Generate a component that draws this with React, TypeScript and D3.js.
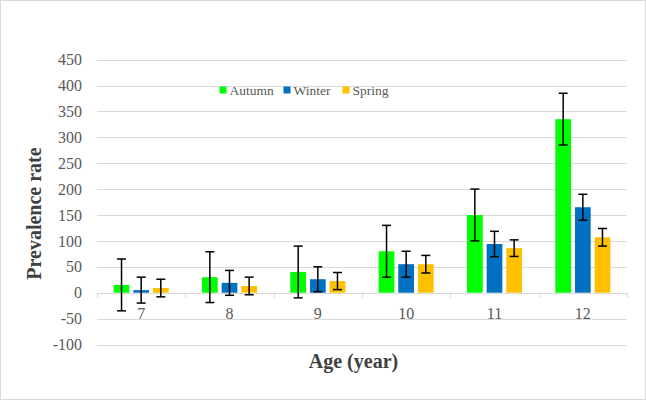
import React from "react";
import * as d3 from "d3";

const categories = ["7", "8", "9", "10", "11", "12"];
const seriesNames = ["Autumn", "Winter", "Spring"];
const seriesColors = ["#00ff00", "#0070c0", "#ffc000"];
const autumn = [15, 30, 40, 80, 150, 335];
const autumnErr = [50, 49, 50, 50, 50, 50];
const winter = [5, 19, 26, 55, 94, 165];
const winterErr = [25, 24, 24, 25, 24.5, 25];
const spring = [9, 13, 22.5, 55, 86, 107];
const springErr = [17, 17, 16.5, 17, 16, 17];
const yTicks = [-100, -50, 0, 50, 100, 150, 200, 250, 300, 350, 400, 450];

const W = 646;
const H = 400;
const FONT = "'Liberation Serif', 'Times New Roman', serif";

export default function App() {
  const values = [autumn, winter, spring];
  const errs = [autumnErr, winterErr, springErr];
  const y = d3.scaleLinear().domain([-100, 450]).range([344.5, 59.6]);
  const x0 = d3.scaleBand().domain(categories).range([97, 627]).paddingInner(0).paddingOuter(0);
  const x1 = d3.scaleBand().domain(seriesNames).range([-27.5, 27.5]).paddingInner(0.2).paddingOuter(0);
  const bw = x1.bandwidth();
  const legendX = [219.5, 283.5, 342.5];

  return (
    <svg width={W} height={H} style={{ position: "absolute", left: 0, top: 0, background: "#fff" }}>
      <rect x={0.5} y={0.5} width={W - 1} height={H - 1} fill="#fff" stroke="#d9d9d9" />
      {/* gridlines */}
      {yTicks.map((t) => (
        <line key={"g" + t} x1={97} x2={627} y1={Math.round(y(t)) + 0.5} y2={Math.round(y(t)) + 0.5} stroke="#d9d9d9" strokeWidth={1} />
      ))}
      {/* x axis ticks */}
      {[...categories.map((c) => x0(c)!), 627].map((xv, i) => (
        <line key={"t" + i} x1={Math.round(xv) + 0.5} x2={Math.round(xv) + 0.5} y1={y(0)} y2={y(0) + 5} stroke="#d9d9d9" />
      ))}
      {/* y tick labels */}
      {yTicks.map((t) => (
        <text key={"yl" + t} x={82} y={y(t)} dy="0.35em" textAnchor="end" fontFamily={FONT} fontSize={16} fill="#595959">
          {t}
        </text>
      ))}
      {/* bars */}
      {categories.map((c, ci) => (
        <g key={"c" + c} transform={`translate(${x0(c)! + x0.bandwidth() / 2},0)`}>
          {seriesNames.map((s, si) => {
            const v = values[si][ci];
            const bx = x1(s)!;
            return (
              <rect key={s} x={bx} y={Math.min(y(v), y(0))} width={bw} height={Math.abs(y(0) - y(v))} fill={seriesColors[si]} />
            );
          })}
        </g>
      ))}
      {/* error bars */}
      {categories.map((c, ci) => (
        <g key={"e" + c} transform={`translate(${x0(c)! + x0.bandwidth() / 2},0)`}>
          {seriesNames.map((s, si) => {
            const v = values[si][ci];
            const e = errs[si][ci];
            const cx = x1(s)! + bw / 2;
            const yt = y(v + e);
            const yb = y(v - e);
            return (
              <g key={s} stroke="#000" strokeWidth={1.5}>
                <line x1={cx} x2={cx} y1={yt} y2={yb} />
                <line x1={cx - 4.5} x2={cx + 4.5} y1={yt} y2={yt} />
                <line x1={cx - 4.5} x2={cx + 4.5} y1={yb} y2={yb} />
              </g>
            );
          })}
        </g>
      ))}
      {/* x labels */}
      {categories.map((c) => (
        <text key={"xl" + c} x={x0(c)! + x0.bandwidth() / 2} y={319} textAnchor="middle" fontFamily={FONT} fontSize={16} fill="#595959">
          {c}
        </text>
      ))}
      {/* legend */}
      {seriesNames.map((s, si) => (
        <g key={"lg" + s}>
          <rect x={legendX[si]} y={86.5} width={7} height={7} fill={seriesColors[si]} />
          <text x={legendX[si] + 10} y={94.5} fontFamily={FONT} fontSize={13.5} fill="#595959">
            {s}
          </text>
        </g>
      ))}
      {/* axis titles */}
      <text transform="translate(41,213.5) rotate(-90)" textAnchor="middle" fontFamily={FONT} fontSize={20} fontWeight="bold" fill="#404040">
        Prevalence rate
      </text>
      <text x={353.5} y={368} textAnchor="middle" fontFamily={FONT} fontSize={20} fontWeight="bold" fill="#404040">
        Age (year)
      </text>
    </svg>
  );
}
